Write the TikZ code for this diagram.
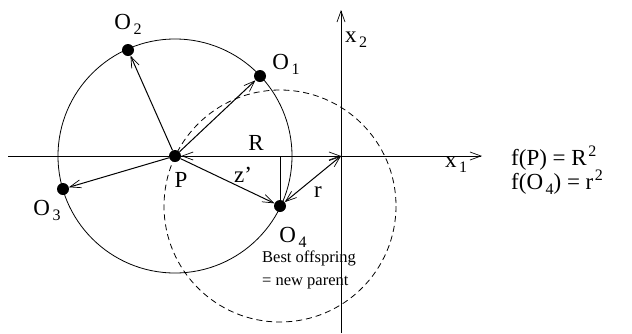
\documentclass[tikz,border=0pt]{standalone}
\usepackage{fontspec}
\setmainfont{Liberation Serif}
\usetikzlibrary{arrows.meta}
\newcommand{\lbl}[2]{#1\kern2.5pt\raisebox{-5pt}{\fontsize{16}{16}\selectfont #2}}
\newcommand{\sqr}[1]{#1\kern1.5pt\raisebox{9pt}{\fontsize{16}{16}\selectfont 2}}
\begin{document}
\begin{tikzpicture}[x=1pt,y=-1pt,
  dot/.style={circle,fill=black,inner sep=0pt,minimum size=12pt},
  lab/.style={font=\fontsize{23}{25}\selectfont,inner sep=0pt},
  small/.style={font=\fontsize{16.5}{23}\selectfont,inner sep=0pt,align=left},
  tip/.tip={Straight Barb[length=11pt,width=8pt,line width=0.7pt]},
  arr/.style={line width=1pt,-tip},
  dbl/.style={line width=1pt,tip-tip},
  axis/.style={line width=0.9pt},
  thin/.style={line width=0.8pt}]
\useasboundingbox (0,0) rectangle (632,333);
% axes
\coordinate (Or) at (341,156);
\coordinate (xl) at (8,156);
\coordinate (xr) at (482,156);
\coordinate (yb) at (341,333);
\coordinate (yt) at (341,10);
\draw[axis,-tip] (xl) -- (xr);
\draw[axis,-tip] (yb) -- (yt);
% points
\node[dot] (P) at (175,156) {};
\node[dot] (O1) at (260,76) {};
\node[dot] (O2) at (128,50) {};
\node[dot] (O3) at (63,189) {};
\node[dot] (O4) at (280,206) {};
% circles
\draw[thin] (P.center) circle[radius=117];
\draw[thin,dash pattern=on 6pt off 4pt] (O4.center) circle[radius=116];
% arrows
\draw[arr] (P) -- (O1);
\draw[arr] (P) -- (O2);
\draw[arr] (P) -- (O3);
\draw[arr] (P) -- (O4);
\draw[dbl] (P) -- (Or);
\draw[dbl] (O4) -- (Or);
\draw[line width=1pt] (O4.center) -- (O4 |- Or);
% labels
\node[lab] (lO2) at (128,24) {\lbl{O}{2}};
\node[lab] (lO1) at (286,64) {\lbl{O}{1}};
\node[lab] (lO3) at (47,210) {\lbl{O}{3}};
\node[lab] (lO4) at (293,237) {\lbl{O}{4}};
\node[lab] (lP) at (181,180) {P};
\node[lab] (lR) at (256,143) {R};
\node[lab] (lz) at (243,175) {z'};
\node[lab] (lr) at (318,192) {r};
\node[lab] (lx2) at (356,40) {\lbl{x}{2}};
\node[lab] (lx1) at (456,165) {\lbl{x}{1}};
\node[small,anchor=north west] (best) at (262,251) {Best offspring\\= new parent};
\node[lab,anchor=west] (f1) at (511,158) {f(P) = \sqr{R}};
\node[lab,anchor=west] (f2) at (511,182) {f(\lbl{O}{4}) = \sqr{r}};
\end{tikzpicture}
\end{document}
